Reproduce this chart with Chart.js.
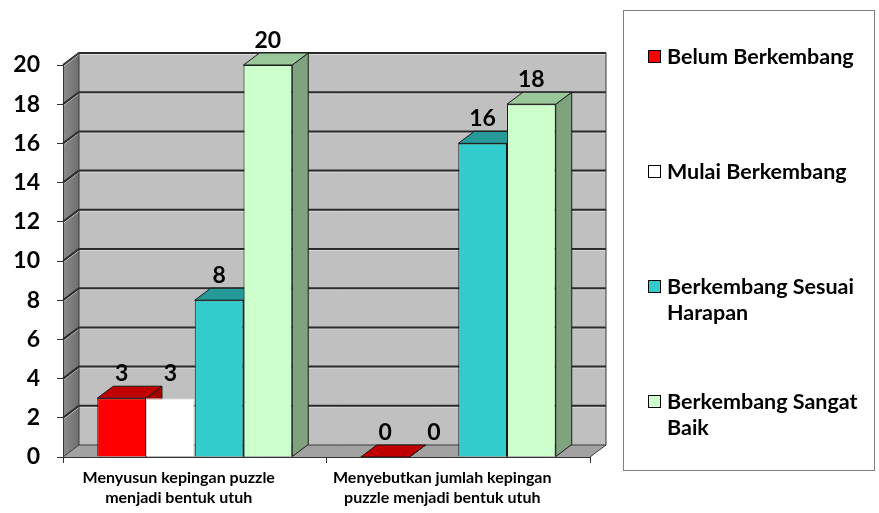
<!DOCTYPE html>
<html>
<head>
<meta charset="utf-8">
<script src="https://cdn.jsdelivr.net/npm/chart.js@4"></script>
<style>
  body { margin: 0; background: #fff; font-family: Lato, "Open Sans", sans-serif; }
  #wrap { position: relative; width: 879px; height: 513px; }
  #legend {
    position: absolute; left: 623px; top: 10px; width: 252px; height: 461px;
    border: 1px solid #7f7f7f; box-sizing: border-box;
  }
  .item { position: absolute; left: 24px; width: 226px; display: flex; align-items: flex-start;
    font-weight: bold; font-size: 21.5px; line-height: 26px; color: #000; }
  .sw { width: 11px; height: 11px; border: 1px solid #000; margin: 7px 6px 0 0; flex: none; }
</style>
</head>
<body>
<div id="wrap">
  <canvas id="grafica" width="879" height="513"></canvas>
  <div id="legend"></div>
</div>
<script>
// --- DATOS ---
const categorias = [
    ['Menyusun kepingan puzzle', 'menjadi bentuk utuh'],
    ['Menyebutkan jumlah kepingan', 'puzzle menjadi bentuk utuh']
];
const nombresSeries = ['Belum Berkembang', 'Mulai Berkembang', 'Berkembang Sesuai Harapan', 'Berkembang Sangat Baik'];
const belumBerkembang = [3, 0];
const mulaiBerkembang = [3, 0];
const sesuaiHarapan = [8, 16];
const sangatBaik = [20, 18];
const yMin = 0, yMax = 20, yPaso = 2;

// colores: frente, tapa, lado
const colFrente = ['#ff0000', '#ffffff', '#33cccc', '#ccffcc'];
const colTapa = ['#c00000', null, '#269999', '#99c799'];
const colLado = ['#a00000', null, '#1f8282', '#80a37f'];

const DX = 16, DY = -12; // profundidad 3D

// --- PAREDES 3D ---
const paredes3D = {
    id: 'paredes3D',
    beforeDraw(chart) {
        const { ctx, chartArea: a, scales } = chart;
        const L = a.left, R = a.right, T = a.top, B = a.bottom;
        ctx.save();
        // pared de fondo
        ctx.fillStyle = '#c0c0c0';
        ctx.fillRect(L + DX, T + DY, R - L, B - T);
        // pared lateral
        const g = ctx.createLinearGradient(L, 0, L + DX, 0);
        g.addColorStop(0, '#8c8c8c');
        g.addColorStop(1, '#6e6e6e');
        ctx.fillStyle = g;
        ctx.beginPath();
        ctx.moveTo(L, T); ctx.lineTo(L + DX, T + DY); ctx.lineTo(L + DX, B + DY); ctx.lineTo(L, B);
        ctx.closePath(); ctx.fill();
        // piso
        ctx.fillStyle = '#a2a2a2';
        ctx.beginPath();
        ctx.moveTo(L, B); ctx.lineTo(L + DX, B + DY); ctx.lineTo(R + DX, B + DY); ctx.lineTo(R, B);
        ctx.closePath(); ctx.fill();
        // lineas de cuadricula
        for (let v = yMin + yPaso; v <= yMax; v += yPaso) {
            const y = scales.y.getPixelForValue(v);
            ctx.strokeStyle = '#dcdcdc'; ctx.lineWidth = 1;
            ctx.beginPath();
            ctx.moveTo(L, y + 1.5); ctx.lineTo(L + DX, y + DY + 1.5); ctx.lineTo(R + DX, y + DY + 1.5);
            ctx.stroke();
            ctx.strokeStyle = '#2b2b2b'; ctx.lineWidth = 2;
            ctx.beginPath();
            ctx.moveTo(L, y); ctx.lineTo(L + DX, y + DY); ctx.lineTo(R + DX, y + DY);
            ctx.stroke();
        }
        // bordes
        ctx.strokeStyle = '#3a3a3a'; ctx.lineWidth = 1;
        ctx.beginPath();
        ctx.moveTo(L + DX, T + DY); ctx.lineTo(L + DX, B + DY); ctx.lineTo(R + DX, B + DY);
        ctx.lineTo(R + DX, T + DY);
        ctx.moveTo(L, T); ctx.lineTo(L + DX, T + DY);
        ctx.moveTo(L, B); ctx.lineTo(L + DX, B + DY);
        ctx.moveTo(R, B); ctx.lineTo(R + DX, B + DY);
        ctx.stroke();
        ctx.restore();
    },
    beforeDatasetsDraw(chart) {
        const { ctx } = chart;
        ctx.save();
        ctx.strokeStyle = '#1a1a1a'; ctx.lineWidth = 1;
        const n = chart.data.labels.length;
        for (let c = 0; c < n; c++) {
            chart.data.datasets.forEach((ds, i) => {
                const bar = chart.getDatasetMeta(i).data[c];
                if (!bar || !colTapa[i]) return;
                const l = bar.x - bar.width / 2, r = bar.x + bar.width / 2;
                const y = bar.y, b = bar.base;
                // lado
                ctx.fillStyle = colLado[i];
                ctx.beginPath();
                ctx.moveTo(r, y); ctx.lineTo(r + DX, y + DY); ctx.lineTo(r + DX, b + DY); ctx.lineTo(r, b);
                ctx.closePath(); ctx.fill(); ctx.stroke();
                // tapa
                ctx.fillStyle = colTapa[i];
                ctx.beginPath();
                ctx.moveTo(l, y); ctx.lineTo(l + DX, y + DY); ctx.lineTo(r + DX, y + DY); ctx.lineTo(r, y);
                ctx.closePath(); ctx.fill(); ctx.stroke();
            });
        }
        ctx.restore();
    },
    afterDatasetsDraw(chart) {
        const { ctx } = chart;
        ctx.save();
        ctx.font = 'bold 23px Lato';
        ctx.fillStyle = '#000';
        ctx.textAlign = 'center';
        ctx.textBaseline = 'alphabetic';
        chart.data.datasets.forEach((ds, i) => {
            chart.getDatasetMeta(i).data.forEach((bar, j) => {
                ctx.fillText(String(ds.data[j]), bar.x, bar.y - 17);
            });
        });
        ctx.restore();
    }
};

// --- GRAFICA ---
const series = [belumBerkembang, mulaiBerkembang, sesuaiHarapan, sangatBaik];
const chart = new Chart(document.getElementById('grafica').getContext('2d'), {
    type: 'bar',
    data: {
        labels: categorias,
        datasets: series.map((d, i) => ({
            label: nombresSeries[i],
            data: d,
            backgroundColor: colFrente[i],
            borderColor: i === 1 ? '#d0d0d0' : '#1a1a1a',
            borderWidth: 1,
            categoryPercentage: 0.74,
            barPercentage: 1
        }))
    },
    options: {
        responsive: false,
        animation: false,
        layout: { padding: { top: 65, right: 289, left: 0, bottom: 0 } },
        plugins: { legend: { display: false }, tooltip: { enabled: false } },
        scales: {
            x: {
                grid: { drawOnChartArea: false, offset: true, tickLength: 6, color: '#333' },
                border: { color: '#333', width: 1 },
                ticks: { color: '#000', font: { family: 'Lato', weight: 'bold', size: 16, lineHeight: 1.3 }, padding: 4, labelOffset: -16, maxRotation: 0 },
                afterFit: s => { s.height = 56; }
            },
            y: {
                min: yMin, max: yMax,
                grid: { drawOnChartArea: false, tickLength: 6, color: '#333' },
                border: { color: '#333', width: 1 },
                ticks: { stepSize: yPaso, color: '#000', font: { family: 'Lato', weight: 'bold', size: 23 }, padding: 17 },
                afterFit: s => { s.width = 63; }
            }
        }
    },
    plugins: [paredes3D]
});

// --- LEYENDA ---
const leyenda = document.getElementById('legend');
nombresSeries.forEach((nombre, i) => {
    const it = document.createElement('div');
    it.className = 'item';
    it.style.top = (32 + i * 115) + 'px';
    it.innerHTML = `<span class="sw" style="background:${colFrente[i]}"></span><span>${nombre}</span>`;
    leyenda.appendChild(it);
});
</script>
</body>
</html>
